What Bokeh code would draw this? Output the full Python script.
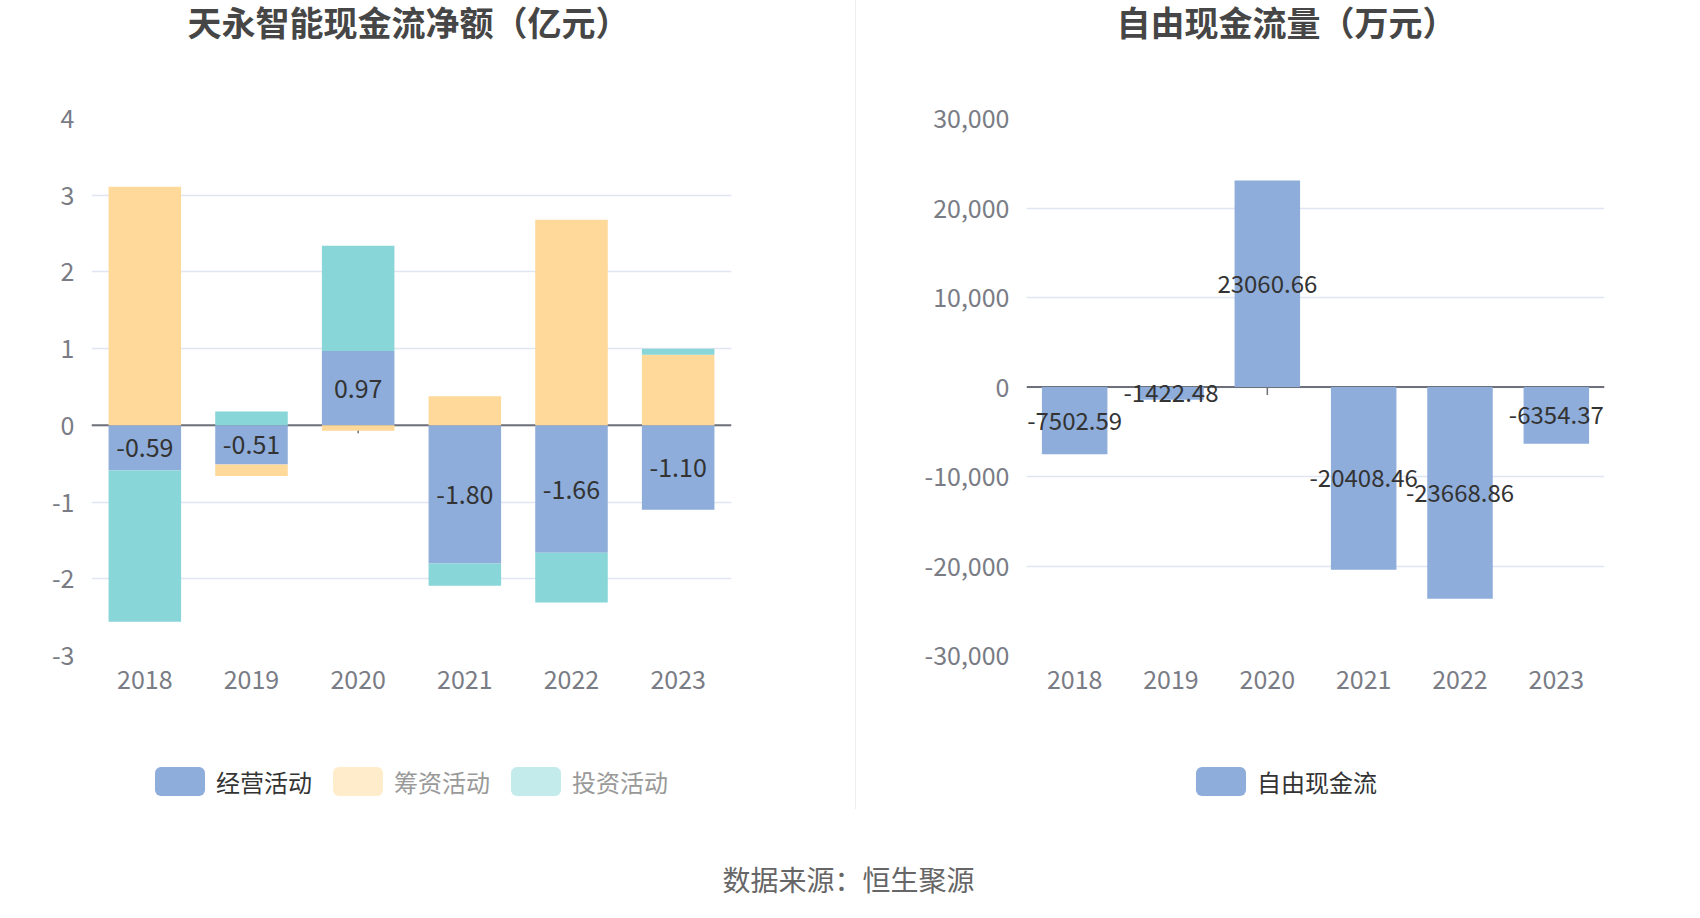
from bokeh.plotting import figure
from bokeh.models import Range1d, FixedTicker, NumeralTickFormatter, Span, Div
from bokeh.layouts import row, column
from bokeh.embed import file_html
from bokeh.resources import INLINE
from bokeh.core.properties import value

# ---------------- data ----------------
years = ["2018", "2019", "2020", "2021", "2022", "2023"]
operating = [-0.59, -0.51, 0.97, -1.80, -1.66, -1.10]   # 经营活动
financing = [3.11, -0.15, -0.07, 0.38, 2.68, 0.92]      # 筹资活动
investing = [-1.97, 0.18, 1.37, -0.29, -0.65, 0.08]     # 投资活动
series_names = ["经营活动", "筹资活动", "投资活动"]
fcf = [-7502.59, -1422.48, 23060.66, -20408.46, -23668.86, -6354.37]  # 自由现金流
left_ticks = [-3, -2, -1, 0, 1, 2, 3, 4]
right_ticks = [-30000, -20000, -10000, 0, 10000, 20000, 30000]

title_left = "天永智能现金流净额（亿元）"
title_right = "自由现金流量（万元）"
source_text = "数据来源：恒生聚源"

FONT = "Noto Sans CJK SC"
C_OP, C_FIN, C_INV = "#8EADDA", "#FFD99A", "#88D6D8"
C_FIN_L, C_INV_L = "#FFECCB", "#C3EBEC"
GRID = "#E0E6F1"
AXIS = "#6E7079"
TICK_TXT = "#7A7C85"

# the whole layout is pulled up over the 8px body margin, so the title row is 8px taller
TH, HC, LH, SH = 104, 629, 90, 84   # title, chart, legend, source heights
WL, WR = 855, 828
BL_L, BR_L = 91, 124
BL_R, BR_R = 170, 80


def blank(w, h, bl=0, br=0):
    # data x == canvas pixel x, data y == pixels from bottom
    f = figure(width=w, height=h, x_range=Range1d(bl, w - br), y_range=Range1d(0, h),
               min_border_left=bl, min_border_right=br, min_border_top=0, min_border_bottom=0,
               output_backend="svg", toolbar_location=None,
               x_axis_location=None, y_axis_location=None)
    f.outline_line_color = None
    f.grid.visible = False
    return f


def title_fig(w, h, bl, br, cx, txt):
    f = blank(w, h, bl, br)
    f.text(x=[cx], y=[h - 29], text=[txt], text_align="center", text_baseline="middle",
           text_font=value(FONT), text_font_size="34px", text_font_style="bold",
           text_color="#464646")
    return f


def legend_fig(w, h, bl, br, cx, cy, labels, colors, tcolors, fs=24):
    f = blank(w, h, bl, br)
    sw, sh, gap, igap = 50, 29, 11, 21
    widths = [sw + gap + fs * len(l) for l in labels]
    total = sum(widths) + igap * (len(labels) - 1)
    x = cx - total / 2
    lefts, tx = [], []
    for wdt in widths:
        lefts.append(x)
        tx.append(x + sw + gap)
        x += wdt + igap
    f.quad(left=lefts, right=[l + sw for l in lefts], bottom=[cy - sh / 2] * len(labels),
           top=[cy + sh / 2] * len(labels), fill_color=colors, line_color=None, border_radius=6)
    f.text(x=tx, y=[cy] * len(labels), text=labels, text_color=tcolors, text_align="left",
           text_baseline="middle", text_font=value(FONT), text_font_size=f"{fs}px")
    return f


def chart(w, h, yr, ticks, bl, br, fmt):
    p = figure(x_range=years, y_range=Range1d(*yr), width=w, height=h,
               min_border_left=bl, min_border_right=br, min_border_top=22, min_border_bottom=70,
               output_backend="svg", toolbar_location=None)
    p.outline_line_color = None
    p.xgrid.visible = False
    p.ygrid.grid_line_color = GRID
    p.ygrid.grid_line_width = 1.5
    p.yaxis.ticker = FixedTicker(ticks=ticks)
    p.yaxis.formatter = NumeralTickFormatter(format=fmt)
    for ax in (p.xaxis, p.yaxis):
        ax.axis_line_color = None
        ax.major_tick_line_color = None
        ax.minor_tick_line_color = None
        ax.major_tick_out = 0
        ax.major_tick_in = 0
        ax.major_label_text_font = FONT
        ax.major_label_text_font_size = "25px"
        ax.major_label_text_color = TICK_TXT
    p.yaxis.major_label_standoff = 17
    p.xaxis.major_label_standoff = 14
    p.add_layout(Span(location=0, dimension="width", line_color=AXIS, line_width=2, level="underlay"))
    # small axis tick at the centre category
    frame_h = h - 22 - 70
    tl = 8 * (yr[1] - yr[0]) / frame_h
    p.segment(x0=[years[2]], y0=[0], x1=[years[2]], y1=[-tl], line_color=AXIS, line_width=1.5)
    return p


# ---------------- left chart ----------------
cL = chart(WL, HC, (-3, 4), left_ticks, BL_L, BR_L, "0")
pos = [0.0] * len(years)
neg = [0.0] * len(years)
stacks = []
for vals in (operating, financing, investing):
    bot, top = [], []
    for i, v in enumerate(vals):
        if v >= 0:
            bot.append(pos[i]); pos[i] += v; top.append(pos[i])
        else:
            bot.append(neg[i]); neg[i] += v; top.append(neg[i])
    stacks.append((bot, top))
for (bot, top), col in zip(stacks, (C_OP, C_FIN, C_INV)):
    cL.vbar(x=years, bottom=bot, top=top, width=0.68, fill_color=col, line_color=None)
ob, ot = stacks[0]
cL.text(x=years, y=[(a + b) / 2 for a, b in zip(ob, ot)], text=[f"{v:.2f}" for v in operating],
        text_align="center", text_baseline="middle", text_font=value(FONT), text_font_size="25px",
        text_color="#333333")

# ---------------- right chart ----------------
cR = chart(WR, HC, (-30000, 30000), right_ticks, BL_R, BR_R, "0,0")
cR.vbar(x=years, top=fcf, width=0.68, fill_color=C_OP, line_color=None)
cR.text(x=years, y=[v / 2 for v in fcf], text=[f"{v:.2f}" for v in fcf],
        text_align="center", text_baseline="middle", text_font=value(FONT), text_font_size="24px",
        text_color="#333333")

tL = title_fig(WL, TH, BL_L, BR_L, 408, title_left)
tR = title_fig(WR, TH, BL_R, BR_R, 430, title_right)
lL = legend_fig(WL, LH, BL_L, BR_L, 411, 34, series_names, [C_OP, C_FIN_L, C_INV_L],
                ["#333333", "#999999", "#999999"])
lR = legend_fig(WR, LH, BL_R, BR_R, 430, 34, ["自由现金流"], [C_OP], ["#333333"])

divider = Div(width=1, height=TH + HC + LH - 6, margin=(0, 0, 0, 0),
              styles={"background-color": "#EEEEEE"})

src = blank(WL + 1 + WR, SH)
src.text(x=[848], y=[21], text=[source_text], text_align="center", text_baseline="middle",
         text_font=value(FONT), text_font_size="28px", text_color="#666666")

page = column(row(column(tL, cL, lL), divider, column(tR, cR, lR)), src,
              margin=(-8, 0, 0, 0))

open("out.html", "w").write(file_html(page, INLINE))
